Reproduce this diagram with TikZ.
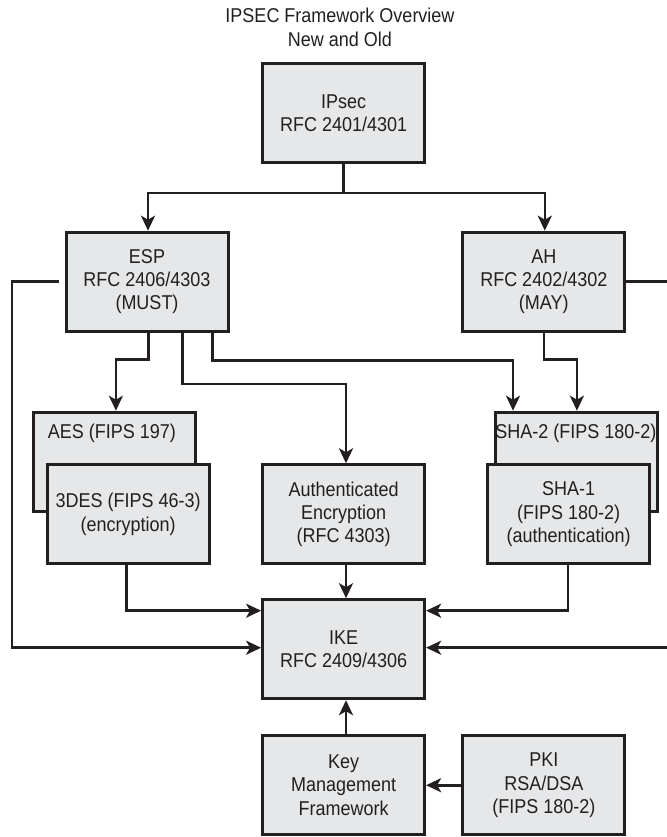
\documentclass[tikz,border=0pt]{standalone}
\usepackage{fontspec}
\setmainfont{Liberation Sans}[FakeStretch=0.9]
\usetikzlibrary{arrows.meta,calc}
\definecolor{boxfill}{HTML}{E6E7E8}
\definecolor{ink}{HTML}{231F20}
\begin{document}
\begin{tikzpicture}[x=1pt,y=-1pt,
  every node/.style={font=\fontsize{20}{23.3}\selectfont, text=ink},
  box/.style={draw=ink, fill=boxfill, line width=3pt, minimum width=162pt, minimum height=99pt, inner sep=0pt, align=center},
  conn/.style={draw=ink, line width=2.6pt},
  arr/.style={conn, -{Stealth[length=15pt,width=14pt,inset=4pt]}},
  txt/.style={inner sep=0pt, align=center}]
\useasboundingbox (0,0) rectangle (666,837);

\node[txt] (title) at (340,27.5) {IPSEC Framework Overview\\New and Old};

\node[box] (ipsec) at (343.6,113.5) {IPsec\\RFC 2401/4301};
\node[box] (esp) at (147,281.7) {ESP\\RFC 2406/4303\\(MUST)};
\node[box] (ah) at (543.8,281.7) {AH\\RFC 2402/4302\\(MAY)};

\node[box] (aes) at (114.9,461.7) {};
\node[txt] (aestext) at ($(aes.north)+(-3,22.6)$) {AES (FIPS 197)};
\node[box] (des) at (128.1,514.3) {3DES (FIPS 46-3)\\(encryption)};

\node[box] (ae) at (343.6,514.3) {Authenticated\\Encryption\\(RFC 4303)};

\node[box] (sha2) at (576.9,461.7) {};
\node[txt] (sha2text) at ($(sha2.north)+(-1,22.6)$) {SHA-2 (FIPS 180-2)};
\node[box] (sha1) at (568.6,514.3) {SHA-1\\(FIPS 180-2)\\(authentication)};

\node[box] (ike) at (343.6,649.2) {IKE\\RFC 2409/4306};
\node[box] (km) at (343.6,785.2) {Key\\Management\\Framework};
\node[box] (pki) at (543.8,785.2) {PKI\\RSA/DSA\\(FIPS 180-2)};

\coordinate (split) at (343.6,193);
\coordinate (leftx) at (12,281.7);
\coordinate (rightA) at (669,281.7);
\coordinate (rightB) at (669,647.7);

% IPsec to ESP / AH
\draw[conn] (ipsec.south) -- (split);
\draw[arr] (split) -| ($(esp.north)+(1,0)$);
\draw[arr] (split) -| ($(ah.north)+(1,0)$);

% ESP left loop to IKE
\draw[arr, shorten <=6pt] (esp.west) -- (leftx) |- ($(ike.west)+(0,-1.5)$);
% AH right edge and back into IKE
\draw[conn] (ah.east) -- (rightA);
\draw[arr] (rightB) -- ($(ike.east)+(0,-1.5)$);

% ESP downward branches
\draw[arr] ($(esp.south)+(1.7,0)$) -- ++(0,27) -| ($(aes.north)+(1,0)$);
\draw[arr] ($(esp.south)+(35.7,0)$) -- ++(0,51.3) -| ($(ae.north)+(2.4,0)$);
\draw[arr] ($(esp.south)+(65.4,0)$) -- ++(0,28) -| ($(sha2.north)+(-63.9,0)$);
% AH downward
\draw[arr] (ah.south) -- ++(0,26.6) -| (sha2.north);

% into IKE
\draw[arr] ($(des.south)+(-1.5,0)$) |- ($(ike.west)+(0,-38.5)$);
\draw[arr] ($(ae.south)+(2.4,0)$) -- ($(ike.north)+(2.4,0)$);
\draw[arr] ($(sha1.south)+(-0.6,0)$) |- ($(ike.east)+(0,-38.5)$);
\draw[arr] ($(km.north)+(2.4,0)$) -- ($(ike.south)+(2.4,0)$);
\draw[arr] (pki.west) -- (km.east);
\end{tikzpicture}
\end{document}
